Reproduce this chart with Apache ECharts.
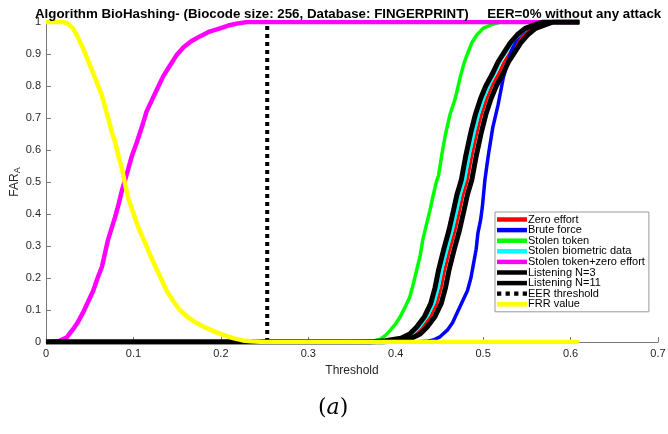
<!DOCTYPE html>
<html><head><meta charset="utf-8">
<script src="https://cdn.jsdelivr.net/npm/echarts@6/dist/echarts.min.js"></script>
<style>html,body{margin:0;padding:0;background:#fff}#c{width:668px;height:434px}</style>
</head><body><div id="c"></div>
<script>
// ---- data ----
const xTicks = [0,0.1,0.2,0.3,0.4,0.5,0.6,0.7];
const yTicks = [0,0.1,0.2,0.3,0.4,0.5,0.6,0.7,0.8,0.9,1];
const seriesNames = ["Zero effort","Brute force","Stolen token","Stolen biometric data","Stolen token+zero effort","Listening N=3","Listening N=11","EER threshold","FRR value"];

const zeroX = [0,0.38,0.395,0.413,0.423,0.431,0.440,0.447,0.452,0.456,0.462,0.468,0.473,0.477,0.482,0.487,0.493,0.498,0.504,0.510,0.517,0.524,0.531,0.538,0.546,0.555,0.565,0.575,0.61];
const zeroY = [0,0,0.004,0.012,0.025,0.047,0.08,0.12,0.17,0.225,0.29,0.35,0.41,0.46,0.506,0.58,0.656,0.71,0.76,0.80,0.835,0.875,0.905,0.935,0.96,0.98,0.99,1,1];

const bruteX = [0,0.42,0.435,0.443,0.45,0.459,0.465,0.470,0.476,0.482,0.486,0.489,0.492,0.494,0.497,0.499,0.502,0.506,0.511,0.517,0.523,0.527,0.531,0.536,0.542,0.548,0.554,0.565,0.575,0.61];
const bruteY = [0,0,0.002,0.006,0.015,0.037,0.06,0.09,0.125,0.16,0.2,0.245,0.29,0.34,0.38,0.42,0.506,0.585,0.67,0.74,0.825,0.865,0.90,0.935,0.96,0.975,0.985,0.995,1,1];

const tokenX = [0,0.34,0.36,0.375,0.382,0.388,0.394,0.400,0.405,0.410,0.416,0.420,0.424,0.428,0.431,0.435,0.439,0.443,0.447,0.449,0.453,0.457,0.462,0.468,0.474,0.478,0.482,0.487,0.493,0.500,0.508,0.52,0.61];
const tokenY = [0,0,0.002,0.004,0.008,0.02,0.037,0.057,0.078,0.105,0.14,0.18,0.225,0.27,0.32,0.365,0.41,0.46,0.506,0.52,0.59,0.65,0.71,0.76,0.83,0.87,0.90,0.935,0.96,0.98,0.99,1,1];

const bioX = [0,0.38,0.395,0.41,0.42,0.428,0.437,0.444,0.449,0.453,0.459,0.465,0.470,0.474,0.479,0.484,0.490,0.495,0.501,0.507,0.514,0.521,0.528,0.535,0.543,0.552,0.562,0.572,0.61];
const bioY = [0,0,0.005,0.013,0.028,0.05,0.085,0.125,0.175,0.23,0.295,0.355,0.415,0.465,0.51,0.585,0.66,0.715,0.765,0.805,0.845,0.885,0.915,0.945,0.965,0.985,0.995,1,1];

const tokZeroX = [0,0.015,0.024,0.028,0.031,0.036,0.042,0.048,0.054,0.059,0.064,0.071,0.075,0.079,0.083,0.087,0.093,0.098,0.104,0.110,0.115,0.121,0.127,0.134,0.142,0.149,0.157,0.166,0.176,0.187,0.199,0.21,0.218,0.23,0.61];
const tokZeroY = [0,0.003,0.015,0.03,0.04,0.06,0.09,0.125,0.16,0.2,0.235,0.32,0.355,0.39,0.43,0.475,0.53,0.58,0.625,0.675,0.72,0.755,0.79,0.83,0.865,0.895,0.92,0.94,0.955,0.97,0.98,0.99,0.995,1,1];

const listen3X = [0,0.37,0.388,0.406,0.416,0.424,0.433,0.440,0.445,0.449,0.455,0.461,0.466,0.470,0.475,0.480,0.486,0.491,0.497,0.503,0.510,0.517,0.524,0.531,0.539,0.548,0.558,0.568,0.61];
const listen3Y = [0,0,0.004,0.012,0.025,0.047,0.08,0.12,0.17,0.225,0.29,0.35,0.41,0.46,0.506,0.58,0.656,0.71,0.76,0.80,0.835,0.875,0.905,0.935,0.96,0.98,0.99,1,1];

const listen11X = [0,0.385,0.400,0.418,0.428,0.436,0.445,0.452,0.457,0.461,0.467,0.473,0.478,0.482,0.487,0.492,0.498,0.503,0.509,0.515,0.522,0.529,0.536,0.543,0.551,0.560,0.570,0.580,0.61];
const listen11Y = [0,0,0.004,0.012,0.025,0.047,0.08,0.12,0.17,0.225,0.29,0.35,0.41,0.46,0.506,0.58,0.656,0.71,0.76,0.80,0.835,0.875,0.905,0.935,0.96,0.98,0.99,1,1];

const eerX = [0.253,0.253];
const eerY = [0,1];

const frrX = [0,0.02,0.025,0.031,0.036,0.042,0.048,0.054,0.059,0.064,0.071,0.075,0.079,0.083,0.087,0.090,0.094,0.099,0.104,0.110,0.115,0.121,0.127,0.133,0.138,0.145,0.153,0.162,0.172,0.183,0.195,0.205,0.214,0.225,0.235,0.25,0.61];
const frrY = [1,1,0.995,0.98,0.955,0.92,0.88,0.84,0.805,0.77,0.70,0.66,0.625,0.58,0.54,0.50,0.45,0.41,0.37,0.33,0.30,0.26,0.225,0.19,0.16,0.13,0.10,0.078,0.06,0.044,0.03,0.02,0.012,0.005,0.002,0,0];

// ---- build chart ----
const pair = (xs, ys) => xs.map((x, i) => [x, ys[i]]);
const seriesData = [
  [zeroX, zeroY, '#ff0000', 3, 'solid'],
  [bruteX, bruteY, '#0000ff', 3.5, 'solid'],
  [tokenX, tokenY, '#00ff00', 3.5, 'solid'],
  [bioX, bioY, '#00ffff', 3.5, 'solid'],
  [tokZeroX, tokZeroY, '#ff00ff', 4.5, 'solid'],
  [listen3X, listen3Y, '#000000', 5, 'solid'],
  [listen11X, listen11Y, '#000000', 5, 'solid'],
  [eerX, eerY, '#000000', 4, [4,4]],
  [frrX, frrY, '#ffff00', 4.5, 'solid']
];
const series = seriesData.map((d, i) => ({
  name: seriesNames[i], type: 'line', data: pair(d[0], d[1]),
  symbol: 'none', showSymbol: false, animation: false,
  lineStyle: { color: d[2], width: d[3], type: d[4], cap: 'butt' },
  itemStyle: { color: d[2] }
}));
const dotsIcon = 'path://M0,0h4v4h-4z M8,0h4v4h-4z M16,0h4v4h-4z M24,0h4v4h-4z';
const legendData = seriesNames.map(n => ({ name: n, icon: n === 'EER threshold' ? dotsIcon : 'rect' }));

const chart = echarts.init(document.getElementById('c'), null, {renderer: 'canvas'});
chart.setOption({
  backgroundColor: '#fff',
  animation: false,
  title: {
    text: 'Algorithm BioHashing- (Biocode size: 256, Database: FINGERPRINT)     EER=0% without any attack',
    left: 30, top: 3,
    textStyle: { fontFamily: 'Liberation Sans', fontWeight: 'bold', fontSize: 13.3, color: '#000' }
  },
  grid: { left: 46, right: 10, top: 22, bottom: 92, containLabel: false, outerBoundsMode: 'none' },
  legend: {
    data: legendData, orient: 'vertical', left: 495, top: 212,
    itemWidth: 30, itemHeight: 4.5, itemGap: -0.4,
    padding: [2, 4, 2, 2],
    backgroundColor: '#fff', borderColor: '#999', borderWidth: 1,
    textStyle: { fontFamily: 'Liberation Sans', fontSize: 11, color: '#000', padding: [0,0,0,-4], lineHeight: 10.3 },
    selectedMode: false
  },
  xAxis: {
    type: 'value', min: 0, max: 0.7, interval: 0.1,
    name: 'Threshold', nameLocation: 'middle', nameGap: 23, nameMoveOverlap: false,
    nameTextStyle: { fontFamily: 'Liberation Sans', fontSize: 12, color: '#262626' },
    axisLine: { lineStyle: { color: '#777' } },
    axisTick: { inside: true, length: 5, lineStyle: { color: '#777' } },
    axisLabel: { fontFamily: 'Liberation Sans', fontSize: 11, color: '#262626', margin: 6,
      formatter: v => String(+v.toFixed(1)) },
    splitLine: { show: false }
  },
  yAxis: {
    type: 'value', min: 0, max: 1, interval: 0.1,
    name: 'FAR{sub|A}', nameLocation: 'middle', nameGap: 24, nameRotate: 90, nameMoveOverlap: false,
    nameTextStyle: { fontFamily: 'Liberation Sans', fontSize: 12, color: '#262626',
      rich: { sub: { fontFamily: 'Liberation Sans', fontSize: 9, color: '#262626', verticalAlign: 'bottom', padding: [6,0,0,0] } } },
    axisLine: { show: true, lineStyle: { color: '#777' } },
    axisTick: { show: true, inside: true, length: 5, lineStyle: { color: '#777' } },
    axisLabel: { fontFamily: 'Liberation Sans', fontSize: 11, color: '#262626', margin: 5,
      formatter: v => String(+v.toFixed(1)) },
    splitLine: { show: false }
  },
  graphic: [{
    type: 'text', left: 318, top: 397,
    style: { text: '({i|a})', font: '22px "DejaVu Serif"', fill: '#000',
      rich: { i: { fontFamily: 'DejaVu Serif', fontStyle: 'italic', fontSize: 22 } } }
  }],
  series: series
});
</script></body></html>
